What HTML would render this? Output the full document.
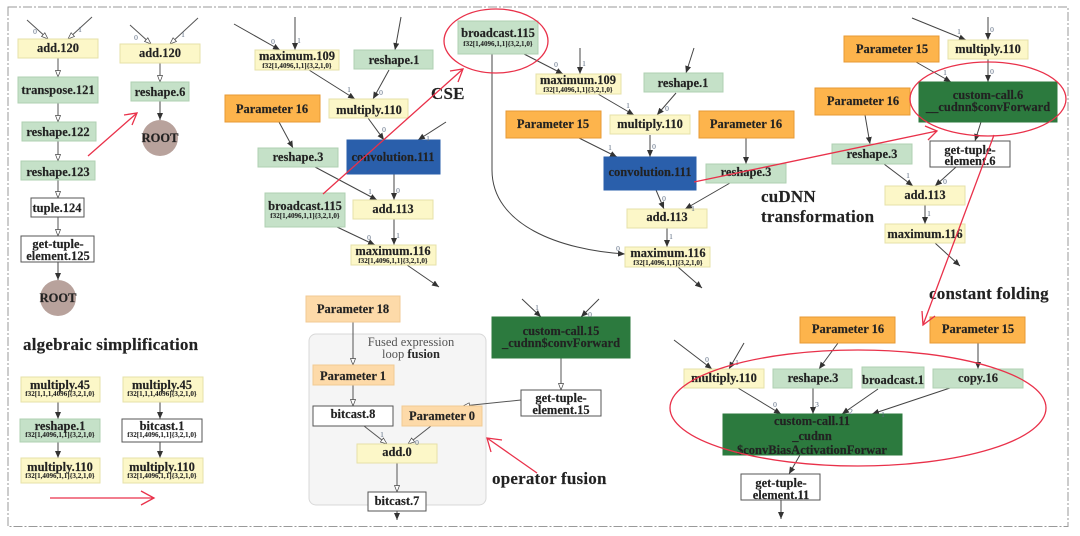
<!DOCTYPE html>
<html><head><meta charset="utf-8"><style>
html,body{margin:0;padding:0;background:#fff;width:1080px;height:536px;overflow:hidden}
svg{display:block;filter:blur(.3px)}
text{font-family:"Liberation Serif",serif;font-weight:bold;fill:#222;stroke:#222;stroke-width:.15;text-anchor:middle;font-size:12.5px}
.s{font-size:7.1px;stroke-width:.05}
.e{font-size:7.5px;font-weight:normal;fill:#5a6a80;stroke:none}
.h{font-size:17px;letter-spacing:.2px;text-anchor:start}
.y{fill:#fcf7c8;stroke:#e6e0a8}
.g{fill:#c5e1c8;stroke:#afd0b2}
.o{fill:#fdb44c;stroke:#e79a35}
.l{fill:#fddaa9;stroke:#f1ca94}
.w{fill:#fff;stroke:#555}
.b{fill:#2a5fab;stroke:#2a5fab}
.d{fill:#2c7a3e;stroke:#2c7a3e}
.f path,.f line{stroke:#444;stroke-width:1;fill:none;marker-end:url(#af)}
.n line{stroke:#555;stroke-width:1;fill:none;marker-end:url(#ah)}
.r line,.r path,.r ellipse{stroke:#e9314a;stroke-width:1.3;fill:none}
</style></head><body>
<svg width="1080" height="536" viewBox="0 0 1080 536" xmlns="http://www.w3.org/2000/svg">
<defs>
<marker id="af" markerUnits="userSpaceOnUse" markerWidth="8" markerHeight="6" refX="7" refY="3" orient="auto"><path d="M0,0 L7,3 L0,6 Z" fill="#333"/></marker>
<marker id="ah" markerUnits="userSpaceOnUse" markerWidth="8" markerHeight="6" refX="7" refY="3" orient="auto"><path d="M.5,.5 L7,3 L.5,5.5 Z" fill="#fff" stroke="#444" stroke-width=".7"/></marker>
</defs>
<rect x="8" y="7" width="1060" height="519.5" fill="none" stroke="#999" stroke-width="1" stroke-dasharray="9 2 2 2"/>
<rect x="309" y="334" width="177" height="171" rx="7" fill="#f5f5f5" stroke="#d8d8d8" stroke-width="1"/>

<g class="n">
<line x1="27" y1="20" x2="48" y2="39"/><line x1="92" y1="17" x2="68" y2="39"/>
<line x1="58" y1="58" x2="58" y2="77"/><line x1="58" y1="103" x2="58" y2="122"/><line x1="58" y1="141" x2="58" y2="161"/><line x1="58" y1="180" x2="58" y2="198"/><line x1="58" y1="217" x2="58" y2="236"/>
<line x1="130" y1="25" x2="151" y2="44"/><line x1="198" y1="18" x2="170" y2="44"/><line x1="160" y1="63" x2="160" y2="82"/>
<line x1="353" y1="322" x2="353" y2="365"/><line x1="353" y1="385" x2="353" y2="406"/><line x1="364" y1="426" x2="387" y2="444"/><line x1="431" y1="426" x2="408" y2="444"/><line x1="397" y1="463" x2="397" y2="492"/>
<line x1="561" y1="358" x2="561" y2="390"/><line x1="521" y1="400" x2="463" y2="406"/>
</g>
<g class="f">
<line x1="58" y1="262" x2="58" y2="280"/><line x1="160" y1="101" x2="160" y2="120"/>
<line x1="58" y1="402" x2="58" y2="419"/><line x1="58" y1="442" x2="58" y2="458"/><line x1="160" y1="402" x2="160" y2="419"/><line x1="160" y1="442" x2="160" y2="458"/>
<line x1="234" y1="24" x2="280" y2="50"/><line x1="295" y1="17" x2="295" y2="50"/><line x1="401" y1="17" x2="395" y2="50"/>
<line x1="309" y1="70" x2="355" y2="99"/><line x1="389" y1="70" x2="373" y2="99"/><line x1="279" y1="122" x2="293" y2="148"/>
<line x1="368" y1="118" x2="384" y2="140"/><line x1="446" y1="122" x2="418" y2="140"/><line x1="315" y1="167" x2="377" y2="200"/>
<line x1="394" y1="174" x2="394" y2="200"/><line x1="394" y1="219" x2="394" y2="245"/><line x1="337" y1="227" x2="375" y2="245"/><line x1="407" y1="265" x2="439" y2="287"/>
<line x1="524" y1="54" x2="563" y2="74"/><line x1="580" y1="48" x2="580" y2="74"/><line x1="694" y1="48" x2="686" y2="73"/>
<line x1="598" y1="94" x2="634" y2="115"/><line x1="676" y1="93" x2="657" y2="115"/><line x1="579" y1="138" x2="617" y2="157"/>
<line x1="650" y1="135" x2="650" y2="157"/><line x1="746" y1="138" x2="746" y2="164"/><line x1="656" y1="190" x2="664" y2="209"/><line x1="730" y1="183" x2="685" y2="209"/>
<line x1="667" y1="228" x2="667" y2="247"/><path d="M492,54 L492,170 C492,225 560,250 625,254"/><line x1="678" y1="267" x2="702" y2="288"/>
<line x1="912" y1="18" x2="966" y2="40"/><line x1="988" y1="17" x2="988" y2="40"/><line x1="988" y1="59" x2="988" y2="82"/><line x1="916" y1="62" x2="951" y2="82"/>
<line x1="865" y1="115" x2="870" y2="144"/><line x1="981" y1="122" x2="975" y2="141"/><line x1="884" y1="164" x2="913" y2="186"/><line x1="956" y1="167" x2="935" y2="186"/>
<line x1="925" y1="205" x2="925" y2="224"/><line x1="935" y1="243" x2="960" y2="266"/>
<line x1="397" y1="511" x2="397" y2="520"/><line x1="522" y1="299" x2="541" y2="317"/><line x1="599" y1="299" x2="581" y2="317"/>
<line x1="674" y1="340" x2="712" y2="369"/><line x1="744" y1="343" x2="729" y2="369"/><line x1="838" y1="343" x2="819" y2="369"/><line x1="978" y1="343" x2="978" y2="369"/>
<line x1="738" y1="388" x2="781" y2="414"/><line x1="813" y1="388" x2="813" y2="414"/><line x1="878" y1="389" x2="842" y2="414"/><line x1="950" y1="388" x2="872" y2="414"/>
<line x1="800" y1="455" x2="789" y2="474"/><line x1="781" y1="500" x2="781" y2="519"/>
</g>

<!-- nodes -->
<rect class="y" x="18" y="39" width="80" height="19"/><text x="58" y="52">add.120</text>
<rect class="g" x="18" y="77" width="80" height="26"/><text x="58" y="94">transpose.121</text>
<rect class="g" x="22" y="122" width="74" height="19"/><text x="58" y="136">reshape.122</text>
<rect class="g" x="21" y="161" width="74" height="19"/><text x="58" y="176">reshape.123</text>
<rect class="w" x="31" y="198" width="53" height="19"/><text x="57" y="212">tuple.124</text>
<rect class="w" x="21" y="236" width="73" height="26"/><text x="58" y="248">get-tuple-</text><text x="58" y="260">element.125</text>
<circle cx="58" cy="298" r="18" fill="#b8a29c"/><text x="58" y="302">ROOT</text>
<rect class="y" x="120" y="44" width="80" height="19"/><text x="160" y="57">add.120</text>
<rect class="g" x="131" y="82" width="58" height="19"/><text x="160" y="96">reshape.6</text>
<circle cx="160" cy="138" r="18" fill="#b8a29c"/><text x="160" y="142">ROOT</text>

<rect class="y" x="21" y="377" width="79" height="25"/><text x="60" y="389">multiply.45</text><text class="s" x="60" y="396">f32[1,1,1,4096]{3,2,1,0}</text>
<rect class="g" x="20" y="419" width="80" height="23"/><text x="60" y="430">reshape.1</text><text class="s" x="60" y="437">f32[1,4096,1,1]{3,2,1,0}</text>
<rect class="y" x="21" y="458" width="79" height="25"/><text x="60" y="471">multiply.110</text><text class="s" x="60" y="478">f32[1,4096,1,1]{3,2,1,0}</text>
<rect class="y" x="123" y="377" width="80" height="25"/><text x="162" y="389">multiply.45</text><text class="s" x="162" y="396">f32[1,1,1,4096]{3,2,1,0}</text>
<rect class="w" x="122" y="419" width="80" height="23"/><text x="162" y="430">bitcast.1</text><text class="s" x="162" y="437">f32[1,4096,1,1]{3,2,1,0}</text>
<rect class="y" x="123" y="458" width="80" height="25"/><text x="162" y="471">multiply.110</text><text class="s" x="162" y="478">f32[1,4096,1,1]{3,2,1,0}</text>

<rect class="y" x="255" y="50" width="84" height="20"/><text x="297" y="60">maximum.109</text><text class="s" x="297" y="68">f32[1,4096,1,1]{3,2,1,0}</text>
<rect class="g" x="354" y="50" width="79" height="19"/><text x="394" y="64">reshape.1</text>
<rect class="o" x="225" y="95" width="95" height="27"/><text x="272" y="113">Parameter 16</text>
<rect class="y" x="329" y="99" width="79" height="19"/><text x="369" y="114">multiply.110</text>
<rect class="g" x="258" y="148" width="80" height="19"/><text x="298" y="161">reshape.3</text>
<rect class="b" x="347" y="140" width="93" height="34"/><text x="393" y="161">convolution.111</text>
<rect class="g" x="265" y="193" width="80" height="34"/><text x="305" y="210">broadcast.115</text><text class="s" x="305" y="218">f32[1,4096,1,1]{3,2,1,0}</text>
<rect class="y" x="353" y="200" width="80" height="19"/><text x="393" y="213">add.113</text>
<rect class="y" x="351" y="245" width="85" height="20"/><text x="393" y="255">maximum.116</text><text class="s" x="393" y="263">f32[1,4096,1,1]{3,2,1,0}</text>

<rect class="g" x="458" y="21" width="80" height="33"/><text x="498" y="37">broadcast.115</text><text class="s" x="498" y="46">f32[1,4096,1,1]{3,2,1,0}</text>
<rect class="y" x="536" y="74" width="85" height="20"/><text x="578" y="84">maximum.109</text><text class="s" x="578" y="92">f32[1,4096,1,1]{3,2,1,0}</text>
<rect class="g" x="644" y="73" width="79" height="19"/><text x="683" y="87">reshape.1</text>
<rect class="o" x="506" y="111" width="95" height="27"/><text x="553" y="128">Parameter 15</text>
<rect class="y" x="610" y="115" width="80" height="19"/><text x="650" y="128">multiply.110</text>
<rect class="o" x="699" y="111" width="95" height="27"/><text x="746" y="128">Parameter 16</text>
<rect class="b" x="604" y="157" width="92" height="33"/><text x="650" y="176">convolution.111</text>
<rect class="g" x="706" y="164" width="80" height="19"/><text x="746" y="176">reshape.3</text>
<rect class="y" x="627" y="209" width="80" height="19"/><text x="667" y="221">add.113</text>
<rect class="y" x="625" y="247" width="85" height="20"/><text x="668" y="257">maximum.116</text><text class="s" x="668" y="265">f32[1,4096,1,1]{3,2,1,0}</text>

<rect class="y" x="948" y="40" width="80" height="19"/><text x="988" y="53">multiply.110</text>
<rect class="o" x="844" y="36" width="95" height="26"/><text x="892" y="53">Parameter 15</text>
<rect class="d" x="919" y="82" width="138" height="40"/><text x="988" y="99">custom-call.6</text><text x="988" y="111">__cudnn$convForward</text>
<rect class="o" x="815" y="88" width="95" height="27"/><text x="863" y="105">Parameter 16</text>
<rect class="g" x="832" y="144" width="80" height="20"/><text x="872" y="158">reshape.3</text>
<rect class="w" x="930" y="141" width="80" height="26"/><text x="970" y="154">get-tuple-</text><text x="970" y="165">element.6</text>
<rect class="y" x="885" y="186" width="80" height="19"/><text x="925" y="199">add.113</text>
<rect class="y" x="885" y="224" width="80" height="19"/><text x="925" y="238">maximum.116</text>

<rect class="l" x="306" y="296" width="94" height="26"/><text x="353" y="313">Parameter 18</text>
<text x="411" y="346" style="font-weight:normal;fill:#555;stroke:none">Fused expression</text>
<text x="411" y="358" style="font-weight:normal;fill:#555;stroke:none">loop <tspan style="font-weight:bold;fill:#2a2a2a">fusion</tspan></text>
<rect class="l" x="313" y="365" width="81" height="20"/><text x="353" y="380">Parameter 1</text>
<rect class="w" x="313" y="406" width="80" height="20"/><text x="353" y="418">bitcast.8</text>
<rect class="l" x="402" y="406" width="80" height="20"/><text x="442" y="420">Parameter 0</text>
<rect class="y" x="357" y="444" width="80" height="19"/><text x="397" y="456">add.0</text>
<rect class="w" x="368" y="492" width="58" height="19"/><text x="397" y="505">bitcast.7</text>
<rect class="d" x="492" y="317" width="138" height="41"/><text x="561" y="335">custom-call.15</text><text x="561" y="347">_cudnn$convForward</text>
<rect class="w" x="521" y="390" width="80" height="26"/><text x="561" y="402">get-tuple-</text><text x="561" y="414">element.15</text>

<rect class="o" x="800" y="317" width="95" height="26"/><text x="848" y="333">Parameter 16</text>
<rect class="o" x="930" y="317" width="95" height="26"/><text x="978" y="333">Parameter 15</text>
<rect class="y" x="684" y="369" width="80" height="19"/><text x="724" y="382">multiply.110</text>
<rect class="g" x="773" y="369" width="79" height="19"/><text x="813" y="382">reshape.3</text>
<rect class="g" x="862" y="367" width="62" height="21"/><text x="893" y="384">broadcast.1</text>
<rect class="g" x="933" y="369" width="90" height="19"/><text x="978" y="382">copy.16</text>
<rect class="d" x="723" y="414" width="179" height="41"/><text x="812" y="425">custom-call.11</text><text x="812" y="440">_cudnn</text><text x="812" y="454">$convBiasActivationForwar</text>
<rect class="w" x="741" y="474" width="79" height="26"/><text x="781" y="487">get-tuple-</text><text x="781" y="499">element.11</text>

<!-- edge labels -->
<text class="e" x="35" y="34">0</text><text class="e" x="80" y="32">1</text><text class="e" x="136" y="40">0</text><text class="e" x="183" y="37">1</text>
<text class="e" x="273" y="44">0</text><text class="e" x="299" y="43">1</text><text class="e" x="349" y="92">1</text><text class="e" x="381" y="95">0</text><text class="e" x="384" y="132">0</text><text class="e" x="428" y="141">1</text><text class="e" x="370" y="194">1</text><text class="e" x="398" y="193">0</text><text class="e" x="398" y="238">1</text><text class="e" x="369" y="240">0</text>
<text class="e" x="556" y="67">0</text><text class="e" x="584" y="66">1</text><text class="e" x="628" y="108">1</text><text class="e" x="667" y="111">0</text><text class="e" x="610" y="150">1</text><text class="e" x="654" y="149">0</text><text class="e" x="664" y="201">0</text><text class="e" x="693" y="211">1</text><text class="e" x="671" y="239">1</text><text class="e" x="618" y="251">0</text>
<text class="e" x="959" y="34">1</text><text class="e" x="992" y="32">0</text><text class="e" x="992" y="74">0</text><text class="e" x="945" y="75">1</text><text class="e" x="908" y="178">1</text><text class="e" x="945" y="184">0</text><text class="e" x="929" y="216">1</text>
<text class="e" x="382" y="437">1</text><text class="e" x="417" y="445">0</text><text class="e" x="537" y="310">1</text><text class="e" x="590" y="317">0</text>
<text class="e" x="707" y="362">0</text><text class="e" x="737" y="365">1</text><text class="e" x="775" y="407">0</text><text class="e" x="817" y="407">3</text><text class="e" x="851" y="414">2</text><text class="e" x="883" y="417">1</text>

<!-- headings -->
<text class="h" x="23" y="350">algebraic simplification</text>
<text class="h" x="431" y="99">CSE</text>
<text class="h" x="761" y="202">cuDNN</text>
<text class="h" x="761" y="222">transformation</text>
<text class="h" x="929" y="299">constant folding</text>
<text class="h" x="492" y="484">operator fusion</text>

<!-- red overlays -->
<g class="r">
<ellipse cx="496" cy="41" rx="52" ry="32"/>
<ellipse cx="988" cy="99" rx="78" ry="37"/>
<ellipse cx="858" cy="408" rx="188" ry="58"/>
<line x1="88" y1="156" x2="137" y2="113"/><path d="M124,115 L137,113 L132,125"/>
<line x1="323" y1="194" x2="463" y2="69"/><path d="M450,71 L463,69 L458,82"/>
<line x1="694" y1="182" x2="937" y2="131"/><path d="M925,126 L937,131 L928,140"/>
<line x1="994" y1="135" x2="923" y2="325"/><path d="M922,311 L923,325 L935,316"/>
<line x1="537" y1="473" x2="487" y2="438"/><path d="M502,440 L487,438 L491,452"/>
<line x1="50" y1="498" x2="154" y2="498"/><path d="M141,491 L154,498 L141,505"/>
</g>
</svg>
</body></html>
